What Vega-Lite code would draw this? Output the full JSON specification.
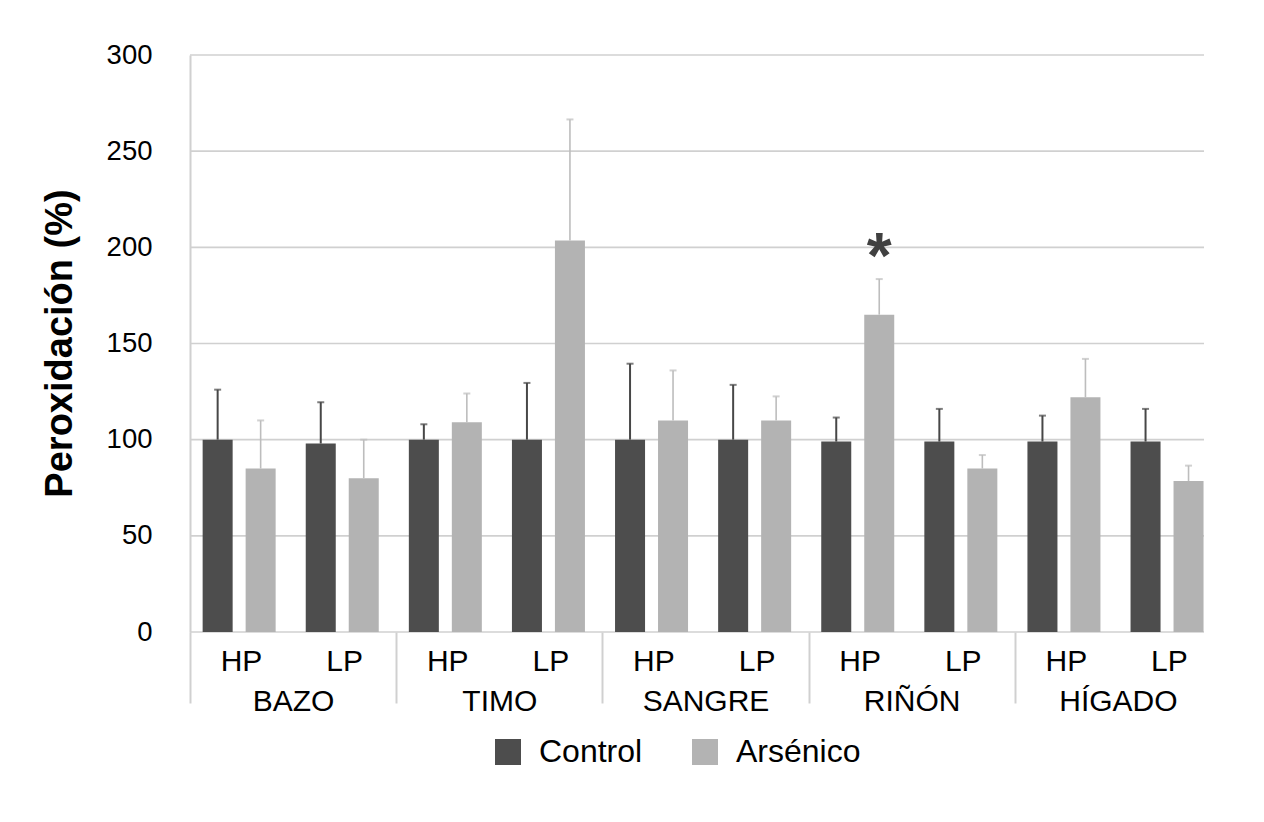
{
  "$schema": "https://vega.github.io/schema/vega-lite/v6.json",
  "autosize": {"type": "none"},
  "padding": {"left": 190, "top": 55, "right": 60, "bottom": 190},
  "width": 1014,
  "height": 577,
  "background": "white",
  "config": {
    "font": "Liberation Sans",
    "view": {"stroke": null},
    "axis": {"labelFont": "Liberation Sans", "titleFont": "Liberation Sans", "labelColor": "#000000", "titleColor": "#000000"},
    "legend": {"labelFont": "Liberation Sans"}
  },
  "datasets": {
    "bars": [
      {"organo": "BAZO", "grupo": "BAZO|HP", "serie": "Control", "valor": 100, "superior": 126},
      {"organo": "BAZO", "grupo": "BAZO|HP", "serie": "Arsénico", "valor": 85, "superior": 110},
      {"organo": "BAZO", "grupo": "BAZO|LP", "serie": "Control", "valor": 98, "superior": 119.5},
      {"organo": "BAZO", "grupo": "BAZO|LP", "serie": "Arsénico", "valor": 80, "superior": 100},
      {"organo": "TIMO", "grupo": "TIMO|HP", "serie": "Control", "valor": 100, "superior": 108},
      {"organo": "TIMO", "grupo": "TIMO|HP", "serie": "Arsénico", "valor": 109, "superior": 124},
      {"organo": "TIMO", "grupo": "TIMO|LP", "serie": "Control", "valor": 100, "superior": 129.5},
      {"organo": "TIMO", "grupo": "TIMO|LP", "serie": "Arsénico", "valor": 203.5, "superior": 266.5},
      {"organo": "SANGRE", "grupo": "SANGRE|HP", "serie": "Control", "valor": 100, "superior": 139.5},
      {"organo": "SANGRE", "grupo": "SANGRE|HP", "serie": "Arsénico", "valor": 110, "superior": 136},
      {"organo": "SANGRE", "grupo": "SANGRE|LP", "serie": "Control", "valor": 100, "superior": 128.5},
      {"organo": "SANGRE", "grupo": "SANGRE|LP", "serie": "Arsénico", "valor": 110, "superior": 122.5},
      {"organo": "RIÑÓN", "grupo": "RIÑÓN|HP", "serie": "Control", "valor": 99, "superior": 111.5},
      {"organo": "RIÑÓN", "grupo": "RIÑÓN|HP", "serie": "Arsénico", "valor": 165, "superior": 183.5},
      {"organo": "RIÑÓN", "grupo": "RIÑÓN|LP", "serie": "Control", "valor": 99, "superior": 116},
      {"organo": "RIÑÓN", "grupo": "RIÑÓN|LP", "serie": "Arsénico", "valor": 85, "superior": 92},
      {"organo": "HÍGADO", "grupo": "HÍGADO|HP", "serie": "Control", "valor": 99, "superior": 112.5},
      {"organo": "HÍGADO", "grupo": "HÍGADO|HP", "serie": "Arsénico", "valor": 122, "superior": 142},
      {"organo": "HÍGADO", "grupo": "HÍGADO|LP", "serie": "Control", "valor": 99, "superior": 116},
      {"organo": "HÍGADO", "grupo": "HÍGADO|LP", "serie": "Arsénico", "valor": 78.5, "superior": 86.5}
    ],
    "marcas": [
      {"grupo": "RIÑÓN|HP", "serie": "Arsénico", "posicion": 184, "simbolo": "*"}
    ],
    "rejilla": [
      {"nivel": 0}, {"nivel": 50}, {"nivel": 100}, {"nivel": 150}, {"nivel": 200}, {"nivel": 250}, {"nivel": 300}
    ]
  },
  "layer": [
    {
      "data": {"name": "rejilla"},
      "mark": {"type": "rule", "color": "#d0d0d0", "strokeWidth": 1.6},
      "encoding": {
        "y": {
          "field": "nivel", "type": "quantitative",
          "scale": {"domain": [0, 300], "nice": false},
          "axis": {"title": "Peroxidación (%)", "titleFontSize": 38, "titleFontWeight": "bold", "titleX": -130, "titleY": 288, "titleBaseline": "middle", "titleAngle": -90, "titleAnchor": "middle", "values": [0, 50, 100, 150, 200, 250, 300], "labelFontSize": 27.5, "labelPadding": 38, "ticks": false, "tickSize": 0, "domainColor": "#d0d0d0", "domainWidth": 2, "grid": false}
        }
      }
    },
    {
      "encoding": {
        "x": {
          "field": "grupo", "type": "nominal",
          "scale": {"domain": ["BAZO|HP","BAZO|LP","TIMO|HP","TIMO|LP","SANGRE|HP","SANGRE|LP","RIÑÓN|HP","RIÑÓN|LP","HÍGADO|HP","HÍGADO|LP"], "range": [0, 1031], "paddingInner": 0, "paddingOuter": 0},
          "axis": {"orient": "bottom", "title": null, "domain": false, "ticks": false, "tickSize": 0, "grid": false, "labelAngle": 0, "labelFontSize": 30, "labelPadding": 14, "labelExpr": "split(datum.label, '|')[1]"}
        },
        "xOffset": {
          "field": "serie", "type": "nominal",
          "scale": {"domain": ["Control", "Arsénico"], "paddingInner": 0.302, "paddingOuter": 0.35, "align": 0.42}
        }
      },
      "layer": [
        {
          "data": {"name": "bars"},
          "mark": {"type": "bar"},
          "encoding": {
            "y": {"field": "valor", "type": "quantitative"},
            "color": {
              "field": "serie", "type": "nominal",
              "scale": {"domain": ["Control", "Arsénico"], "range": ["#4d4d4d", "#b3b3b3"]},
              "legend": {"orient": "none", "legendX": 302, "legendY": 681, "direction": "horizontal", "title": null, "symbolType": "square", "symbolSize": 676, "symbolStrokeWidth": 0, "labelFontSize": 32, "labelColor": "#000000", "labelOffset": 15, "columnPadding": 46}
            }
          }
        },
        {
          "data": {"name": "bars"},
          "mark": {"type": "rule"},
          "encoding": {
            "y": {"field": "valor", "type": "quantitative"},
            "y2": {"field": "superior"},
            "color": {"condition": {"test": "datum.serie === 'Control'", "value": "#474747"}, "value": "#bdbdbd"},
            "strokeWidth": {"condition": {"test": "datum.serie === 'Control'", "value": 2}, "value": 1.6}
          }
        },
        {
          "data": {"name": "bars"},
          "mark": {"type": "tick", "size": 7, "thickness": 2},
          "encoding": {
            "y": {"field": "superior", "type": "quantitative"},
            "color": {"condition": {"test": "datum.serie === 'Control'", "value": "#474747"}, "value": "#bdbdbd"}
          }
        },
        {
          "data": {"name": "marcas"},
          "mark": {"type": "text", "fontSize": 64, "fontWeight": "bold", "color": "#404040", "baseline": "alphabetic", "align": "center"},
          "encoding": {
            "y": {"field": "posicion", "type": "quantitative"},
            "text": {"field": "simbolo"}
          }
        }
      ]
    },
    {
      "data": {"name": "bars"},
      "mark": {"type": "rule", "strokeOpacity": 0},
      "encoding": {
        "x": {
          "field": "organo", "type": "nominal",
          "scale": {"domain": ["BAZO", "TIMO", "SANGRE", "RIÑÓN", "HÍGADO"], "range": [0, 1031], "paddingInner": 0, "paddingOuter": 0},
          "axis": {"orient": "bottom", "title": null, "domain": false, "grid": false, "labelAngle": 0, "labelFontSize": 30, "ticks": true, "tickSize": 71, "tickColor": "#d0d0d0", "tickWidth": 2, "tickOffset": -103.1, "labelOffset": 103.1, "labelPadding": -17}
        }
      }
    }
  ],
  "resolve": {"scale": {"x": "independent"}, "axis": {"x": "independent"}}
}
